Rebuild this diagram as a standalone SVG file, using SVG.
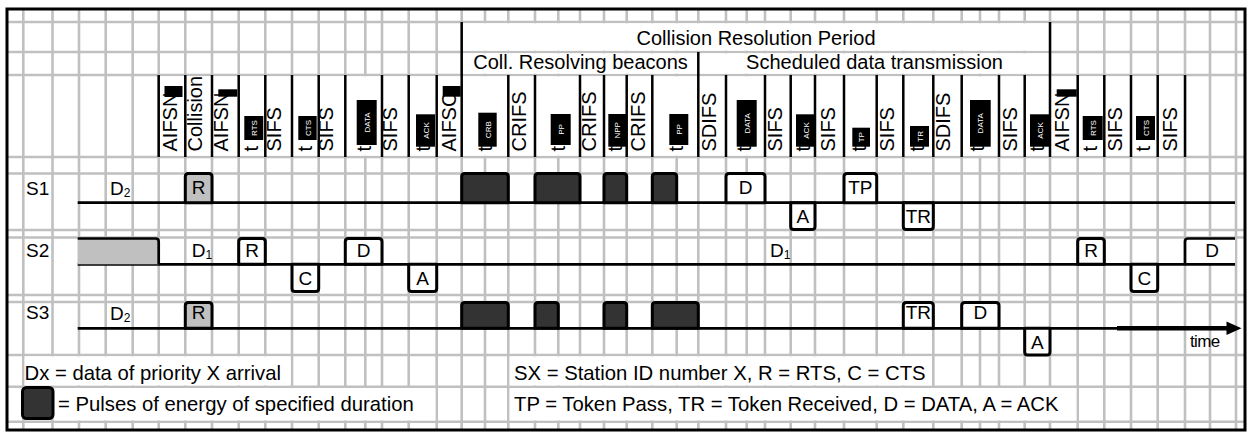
<svg xmlns="http://www.w3.org/2000/svg" width="1250" height="432" viewBox="0 0 1250 432">
<style>
.g{stroke:#c0c0c0;stroke-width:2.6;fill:none}
.sep{stroke:#000;stroke-width:2.5;fill:none}
.tl{stroke:#000;stroke-width:2.7;fill:none}
.bx{stroke:#000;stroke-width:3;fill:#fff;stroke-linejoin:round}
.gb{stroke:#000;stroke-width:3;fill:#c0c0c0;stroke-linejoin:round}
.pu{fill:#333;stroke:#000;stroke-width:3;stroke-linejoin:round}
.w{fill:#fff}
text{font-family:"Liberation Sans",Arial,sans-serif;fill:#000}
.h{font-size:20px}
.l{font-size:19px}
.c{text-anchor:middle}
.lg{font-size:20.3px}
.kt{font-size:8px;fill:#fff;text-anchor:middle}
</style>
<rect x="0" y="0" width="1250" height="432" fill="#fff"/>
<g id="grid">
<path class="g" d="M23.3 9V430M52.5 9V430M79 9V430M105.7 9V430M132.7 9V430M158.7 9V430M185.3 9V430M212 9V430M238.7 9V430M265.3 9V430M292 9V430M318.7 9V430M345.3 9V430M365.3 9V430M382 9V430M408.7 9V430M436.7 9V430M461.7 9V430M485 9V430M508.3 9V430M535 9V430M558.3 9V430M580 9V430M604 9V430M626.7 9V430M652.3 9V430M676.7 9V430M698.3 9V430M726 9V430M746.7 9V430M765 9V430M790.7 9V430M815 9V430M844 9V430M876.7 9V430M903.3 9V430M933.3 9V430M961.7 9V430M980 9V430M999 9V430M1024.7 9V430M1050 9V430M1077.7 9V430M1104.3 9V430M1131 9V430M1157.7 9V430M1185 9V430M1210 9V430M1236 9V430"/>
<path class="g" d="M7 22H1245M7 52H1245M7 75H1245M7 157H1245M7 173.5H1245M7 230H1245M7 237.5H1245M7 295H1245M7 302H1245M7 355H1245M7 386.7H1245M7 421.7H1245"/>
<rect class="w" x="159.5" y="76.3" width="1024.7" height="79.4"/>
<rect class="w" x="462.5" y="23.3" width="586.7" height="27.4"/>
<rect class="w" x="462.5" y="53.3" width="586.7" height="20.4"/>
<rect class="w" x="24.6" y="356.3" width="266.1" height="29.1"/>
<rect class="w" x="53.8" y="388" width="381.6" height="32.4"/>
<rect class="w" x="509.6" y="356.3" width="422.4" height="29.1"/>
<rect class="w" x="509.6" y="388" width="566.8" height="32.4"/>
</g>
<g id="header">
<path class="sep" d="M158.7 75V157M185.3 75V157M212 75V157M238.7 75V157M265.3 75V157M292 75V157M318.7 75V157M345.3 75V157M382 75V157M408.7 75V157M436.7 75V157M461.7 22V157M508.3 75V157M535 75V157M580 75V157M604 75V157M626.7 75V157M652.3 75V157M698.3 52V157M726 75V157M765 75V157M790.7 75V157M815 75V157M844 75V157M876.7 75V157M903.3 75V157M933.3 75V157M961.7 75V157M999 75V157M1024.7 75V157M1050 22V157M1077.7 75V157M1104.3 75V157M1131 75V157M1157.7 75V157M1185 75V157"/>
<text class="h c" x="756" y="45">Collision Resolution Period</text>
<text class="h c" x="580.5" y="68.5">Coll. Resolving beacons</text>
<text class="h c" x="874.5" y="68.5">Scheduled data transmission</text>
<g id="hdr-labels">
<text class="h" transform="translate(176.7,151.5) rotate(-90)">AIFSN</text>
<text class="h" transform="translate(201.7,151.5) rotate(-90)">Collision</text>
<text class="h" transform="translate(228.3,151.5) rotate(-90)">AIFSN</text>
<text class="h" transform="translate(280.7,151.5) rotate(-90)">SIFS</text>
<text class="h" transform="translate(333.3,151.5) rotate(-90)">SIFS</text>
<text class="h" transform="translate(396.7,151.5) rotate(-90)">SIFS</text>
<text class="h" transform="translate(456,151.5) rotate(-90)">AIFSC</text>
<text class="h" transform="translate(526,151.5) rotate(-90)">CRIFS</text>
<text class="h" transform="translate(596,151.5) rotate(-90)">CRIFS</text>
<text class="h" transform="translate(645,151.5) rotate(-90)">CRIFS</text>
<text class="h" transform="translate(716,151.5) rotate(-90)">SDIFS</text>
<text class="h" transform="translate(781.7,151.5) rotate(-90)">SIFS</text>
<text class="h" transform="translate(835,151.5) rotate(-90)">SIFS</text>
<text class="h" transform="translate(894,151.5) rotate(-90)">SIFS</text>
<text class="h" transform="translate(950,151.5) rotate(-90)">SDIFS</text>
<text class="h" transform="translate(1016.7,151.5) rotate(-90)">SIFS</text>
<text class="h" transform="translate(1069.3,151.5) rotate(-90)">AIFSN</text>
<text class="h" transform="translate(1121.7,151.5) rotate(-90)">SIFS</text>
<text class="h" transform="translate(1176.7,151.5) rotate(-90)">SIFS</text>
<rect x="164.5" y="86" width="18" height="11"/>
<rect x="218.3" y="89.3" width="19" height="7.4"/>
<rect x="442.7" y="86" width="18" height="10.7"/>
<rect x="1056.7" y="89.3" width="20" height="7.4"/>
</g>
<g id="hdr-t">
<text class="h" transform="translate(258.3,151.5) rotate(-90)">t</text>
<text class="h" transform="translate(312.3,151.5) rotate(-90)">t</text>
<text class="h" transform="translate(370.7,151.5) rotate(-90)">t</text>
<text class="h" transform="translate(430,151.5) rotate(-90)">t</text>
<text class="h" transform="translate(492.3,151.5) rotate(-90)">t</text>
<text class="h" transform="translate(564.7,151.5) rotate(-90)">t</text>
<text class="h" transform="translate(622.3,151.5) rotate(-90)">t</text>
<text class="h" transform="translate(683.3,151.5) rotate(-90)">t</text>
<text class="h" transform="translate(750.7,151.5) rotate(-90)">t</text>
<text class="h" transform="translate(810,151.5) rotate(-90)">t</text>
<text class="h" transform="translate(866.3,151.5) rotate(-90)">t</text>
<text class="h" transform="translate(924,151.5) rotate(-90)">t</text>
<text class="h" transform="translate(984,151.5) rotate(-90)">t</text>
<text class="h" transform="translate(1044,151.5) rotate(-90)">t</text>
<text class="h" transform="translate(1096.7,151.5) rotate(-90)">t</text>
<text class="h" transform="translate(1150,151.5) rotate(-90)">t</text>
<rect x="244.3" y="116" width="19" height="24"/>
<rect x="298.3" y="116" width="18.4" height="24"/>
<rect x="356.7" y="100" width="20" height="45"/>
<rect x="416" y="114.3" width="19" height="32.4"/>
<rect x="478.3" y="112.7" width="18.4" height="34"/>
<rect x="550.7" y="114" width="20" height="31"/>
<rect x="608.3" y="114" width="17.7" height="32.7"/>
<rect x="669.3" y="114" width="19" height="31"/>
<rect x="736.7" y="100" width="20" height="46.7"/>
<rect x="796" y="114.3" width="19" height="32.4"/>
<rect x="852.3" y="127.7" width="17.7" height="19"/>
<rect x="910" y="126" width="19" height="20.7"/>
<rect x="970" y="100" width="20.7" height="46.7"/>
<rect x="1030" y="114.3" width="19.3" height="32.4"/>
<rect x="1082.7" y="116" width="20" height="24"/>
<rect x="1136" y="116" width="19" height="24"/>
<text class="kt" transform="translate(257,128) rotate(-90)">RTS</text>
<text class="kt" transform="translate(310.5,128) rotate(-90)">CTS</text>
<text class="kt" transform="translate(369.7,122.5) rotate(-90)">DATA</text>
<text class="kt" transform="translate(428.5,130.5) rotate(-90)">ACK</text>
<text class="kt" transform="translate(490.5,129.7) rotate(-90)">CRB</text>
<text class="kt" transform="translate(563.7,129.5) rotate(-90)">PP</text>
<text class="kt" transform="translate(620.2,130.3) rotate(-90)">NPP</text>
<text class="kt" transform="translate(681.8,129.5) rotate(-90)">PP</text>
<text class="kt" transform="translate(749.7,123.3) rotate(-90)">DATA</text>
<text class="kt" transform="translate(808.5,130.5) rotate(-90)">ACK</text>
<text class="kt" transform="translate(864.2,137.2) rotate(-90)">TP</text>
<text class="kt" transform="translate(922.5,136.3) rotate(-90)">TR</text>
<text class="kt" transform="translate(983.3,123.3) rotate(-90)">DATA</text>
<text class="kt" transform="translate(1042.6,130.5) rotate(-90)">ACK</text>
<text class="kt" transform="translate(1095.7,128) rotate(-90)">RTS</text>
<text class="kt" transform="translate(1148.5,128) rotate(-90)">CTS</text>
</g>
</g>
<g id="connectors">
<path class="tl" d="M77.7 202.7H1235"/>
<path class="tl" d="M77.7 264.3H1235"/>
<path class="tl" d="M77.7 328.3H1120"/>
<path stroke="#000" stroke-width="4.5" fill="none" d="M1117 328.3H1229"/>
<polygon points="1226.5,321.5 1241.5,328.3 1226.5,335" fill="#000"/>
</g>
<g id="station-S1">
<text class="l" x="26" y="195">S1</text>
<text class="l" x="110" y="195">D<tspan font-size="12" dy="2">2</tspan></text>
</g>
<g id="s1-rts"><path class="gb" d="M185.3 202.7V176.5Q185.3 173.5 188.3 173.5H209Q212 173.5 212 176.5V202.7Z"/><text class="l c" x="198.7" y="193.5">R</text></g>
<g id="s1-p1"><path class="pu" d="M461.7 202.7V176.5Q461.7 173.5 464.7 173.5H505.3Q508.3 173.5 508.3 176.5V202.7Z"/></g>
<g id="s1-p2"><path class="pu" d="M535 202.7V176.5Q535 173.5 538 173.5H577Q580 173.5 580 176.5V202.7Z"/></g>
<g id="s1-p3"><path class="pu" d="M604 202.7V176.5Q604 173.5 607 173.5H623.7Q626.7 173.5 626.7 176.5V202.7Z"/></g>
<g id="s1-p4"><path class="pu" d="M652.3 202.7V176.5Q652.3 173.5 655.3 173.5H673.7Q676.7 173.5 676.7 176.5V202.7Z"/></g>
<g id="s1-data"><path class="bx" d="M726 202.7V176.5Q726 173.5 729 173.5H762Q765 173.5 765 176.5V202.7Z"/><text class="l c" x="745.5" y="193.5">D</text></g>
<g id="s1-ack"><path class="bx" d="M790.7 202.7V226.5Q790.7 229.5 793.7 229.5H812Q815 229.5 815 226.5V202.7Z"/><text class="l c" x="802.9" y="223">A</text></g>
<g id="s1-tp"><path class="bx" d="M844 202.7V176.5Q844 173.5 847 173.5H873.7Q876.7 173.5 876.7 176.5V202.7Z"/><text class="l c" x="860.3" y="193.5">TP</text></g>
<g id="s1-tr"><path class="bx" d="M903.3 202.7V226.5Q903.3 229.5 906.3 229.5H930.3Q933.3 229.5 933.3 226.5V202.7Z"/><text class="l c" x="918.3" y="223">TR</text></g>
<g id="station-S2">
<text class="l" x="26" y="257">S2</text>
<rect x="77.7" y="238.5" width="81" height="25.8" fill="#c0c0c0"/>
<path class="tl" stroke-width="3" d="M77.7 238.5H155.7Q158.7 238.5 158.7 241.5V264.3"/>
<text class="l" x="191.7" y="257">D<tspan font-size="12" dy="2">1</tspan></text>
<text class="l" x="770" y="257">D<tspan font-size="12" dy="2">1</tspan></text>
</g>
<g id="s2-rts"><path class="bx" d="M238.7 264.3V241.5Q238.7 238.5 241.7 238.5H262.3Q265.3 238.5 265.3 241.5V264.3Z"/><text class="l c" x="252" y="256.5">R</text></g>
<g id="s2-cts"><path class="bx" d="M292 264.3V288.5Q292 291.5 295 291.5H315.7Q318.7 291.5 318.7 288.5V264.3Z"/><text class="l c" x="305.3" y="285">C</text></g>
<g id="s2-data"><path class="bx" d="M345.3 264.3V241.5Q345.3 238.5 348.3 238.5H379Q382 238.5 382 241.5V264.3Z"/><text class="l c" x="363.7" y="256.5">D</text></g>
<g id="s2-ack"><path class="bx" d="M408.7 264.3V288.5Q408.7 291.5 411.7 291.5H433.7Q436.7 291.5 436.7 288.5V264.3Z"/><text class="l c" x="422.7" y="285">A</text></g>
<g id="s2-rts2"><path class="bx" d="M1077.7 264.3V241.5Q1077.7 238.5 1080.7 238.5H1101.3Q1104.3 238.5 1104.3 241.5V264.3Z"/><text class="l c" x="1091" y="256.5">R</text></g>
<g id="s2-cts2"><path class="bx" d="M1131 264.3V288.5Q1131 291.5 1134 291.5H1154.7Q1157.7 291.5 1157.7 288.5V264.3Z"/><text class="l c" x="1144.3" y="285">C</text></g>
<g id="s2-data2"><rect class="w" x="1186.5" y="240" width="48.5" height="23"/><path class="tl" stroke-width="3" d="M1185 264.3V241.5Q1185 238.5 1188 238.5H1235"/><text class="l c" x="1212" y="256.5">D</text></g>
<g id="station-S3">
<text class="l" x="26" y="318.5">S3</text>
<text class="l" x="110" y="320">D<tspan font-size="12" dy="2">2</tspan></text>
</g>
<g id="s3-rts"><path class="gb" d="M185.3 328.3V305.5Q185.3 302.5 188.3 302.5H209Q212 302.5 212 305.5V328.3Z"/><text class="l c" x="198.7" y="319">R</text></g>
<g id="s3-p1"><path class="pu" d="M461.7 328.3V305.5Q461.7 302.5 464.7 302.5H505.3Q508.3 302.5 508.3 305.5V328.3Z"/></g>
<g id="s3-p2"><path class="pu" d="M535 328.3V305.5Q535 302.5 538 302.5H555.3Q558.3 302.5 558.3 305.5V328.3Z"/></g>
<g id="s3-p3"><path class="pu" d="M604 328.3V305.5Q604 302.5 607 302.5H623.7Q626.7 302.5 626.7 305.5V328.3Z"/></g>
<g id="s3-p4"><path class="pu" d="M652.3 328.3V305.5Q652.3 302.5 655.3 302.5H695.3Q698.3 302.5 698.3 305.5V328.3Z"/></g>
<g id="s3-tr"><path class="bx" d="M903.3 328.3V305.5Q903.3 302.5 906.3 302.5H930.3Q933.3 302.5 933.3 305.5V328.3Z"/><text class="l c" x="918.3" y="319">TR</text></g>
<g id="s3-data"><path class="bx" d="M961.7 328.3V305.5Q961.7 302.5 964.7 302.5H996Q999 302.5 999 305.5V328.3Z"/><text class="l c" x="980.3" y="319">D</text></g>
<g id="s3-ack"><path class="bx" d="M1024.7 328.3V352Q1024.7 355 1027.7 355H1047Q1050 355 1050 352V328.3Z"/><text class="l c" x="1037.3" y="348.5">A</text></g>
<g id="time-label"><text x="1190" y="346.5" font-size="17" letter-spacing="-0.6">time</text></g>
<g id="legend">
<text class="lg" x="24.5" y="380">Dx = data of priority X arrival</text>
<rect x="22.5" y="387.5" width="30.5" height="31" rx="4" fill="#333" stroke="#000" stroke-width="3"/>
<text class="lg" x="58" y="410.5">= Pulses of energy of specified duration</text>
<text class="lg" x="514" y="380">SX = Station ID number X, R = RTS, C = CTS</text>
<text class="lg" x="514" y="410.5">TP = Token Pass, TR = Token Received, D = DATA, A = ACK</text>
</g>
<rect x="7" y="9" width="1238" height="421" fill="none" stroke="#000" stroke-width="3"/>
</svg>
